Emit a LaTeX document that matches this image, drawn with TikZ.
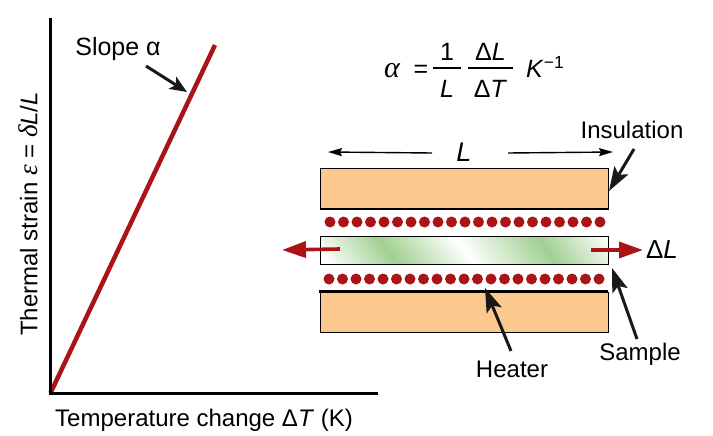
\documentclass[tikz,border=0pt]{standalone}
\usepackage{amsmath,amssymb}
\usepackage{fontspec}
\setmainfont{Liberation Sans}
\newfontfamily\serifgreek{Liberation Serif}
\usepackage{xcolor}
\usetikzlibrary{arrows.meta,positioning,calc}
\definecolor{slabred}{RGB}{170,20,22}
\definecolor{slaborange}{RGB}{251,201,142}
\definecolor{slabgreen}{RGB}{160,208,145}
\pgfdeclarehorizontalshading{samplegrain}{100bp}{color(0bp)=(white); color(30bp)=(white); color(39.5bp)=(slabgreen); color(50bp)=(white); color(61.3bp)=(slabgreen); color(71bp)=(white); color(100bp)=(white)}

\begin{document}
\begin{tikzpicture}[
  x=1pt, y=-1pt,
  font=\fontsize{24}{27}\selectfont,
  txt/.style={inner sep=0pt, align=center},
  term/.style={txt, anchor=base, font=\fontsize{25}{28}\selectfont},
  slab/.style={draw, line width=0.8pt, fill=slaborange},
  coil/.style={circle, fill=slabred, minimum size=11pt, inner sep=0pt},
  axis/.style={line width=3pt},
  pointer/.style={-{Stealth[length=24pt, width=16pt, inset=5pt]}, line width=3pt, black!90},
  span/.style={-{Stealth[length=14pt, width=8pt, inset=2pt]}, line width=1.4pt},
  stretch/.style={-{Stealth[length=24pt, width=16pt, inset=0pt]}, line width=3.6pt, slabred}]
  \useasboundingbox (0,0) rectangle (713,436);

  % graph
  \coordinate (origin) at (50.5,393);
  \coordinate (ytop) at (50.5,18);
  \coordinate (xend) at (378,393);
  \coordinate (linetop) at (215,45);
  \draw[slabred, line width=4.5pt] (origin) -- (linetop);
  \draw[axis] (ytop) -- (origin.center) -- (xend);
  \node[txt, font=\fontsize{25}{28}\selectfont] (slope) at (118,49) {Slope α};
  \coordinate (slopetail) at (146,66);
  \coordinate (slopetip) at (187,92);
  \draw[pointer, {-{Stealth[length=17pt, width=14pt, inset=4pt]}}] (slopetail) -- (slopetip);
  \node[txt, rotate=90] (ylabel) at (28,214) {Thermal strain {\serifgreek\itshape\fontsize{27}{27}\selectfont ε} = {\serifgreek\itshape\fontsize{27}{27}\selectfont δ}\textit{L}/\textit{L}};
  \node[txt] (xlabel) at (204,420) {Temperature change Δ\textit{T} (K)};

  % formula
  \node[term, font=\fontsize{30}{30}\selectfont\serifgreek\itshape] (alpha) at (392,78) {α};
  \node[term] (equals) at (421,78) {=};
  \node[term] (num1) at (447,61) {1};
  \node[term] (den1) at (447,98) {\textit{L}};
  \node[term] (num2) at (490.5,61) {Δ\textit{L}};
  \node[term] (den2) at (490.5,98) {Δ\textit{T}};
  \node[term, anchor=base west] (kelvin) at (526,78) {\textit{K}\textsuperscript{−1}};
  \coordinate (bar1l) at (433,68);
  \coordinate (bar1r) at (461,68);
  \coordinate (bar2l) at (468,68);
  \coordinate (bar2r) at (513,68);
  \draw[line width=1.5pt] (bar1l) -- (bar1r);
  \draw[line width=1.5pt] (bar2l) -- (bar2r);

  % insulation
  \node[slab, minimum width=288pt, minimum height=41pt, inner sep=0pt] (topslab) at (464,188.5) {};
  \node[slab, minimum width=288pt, minimum height=40pt, inner sep=0pt] (botslab) at (464,312) {};
  \draw[line width=2pt] (topslab.south west) -- (topslab.south east);
  \draw[line width=2.4pt] ($(botslab.north west)+(-1,0)$) -- (botslab.north east);

  % sample
  \begin{scope}
    \clip (320,236) rectangle (608,264);
    \shade[shading=samplegrain, transform canvas={rotate around={35:(464,250)}}] (314,130) rectangle (614,370);
  \end{scope}
  \node[draw, line width=0.8pt, minimum width=288pt, minimum height=28pt, inner sep=0pt] (sample) at (464,250) {};

  % heater
  \foreach \i in {0,...,20} {
    \node[coil] (up\i) at ({330+13.5*\i},222) {};
    \node[coil] (lo\i) at ({329+13.5*\i},279) {};
  }

  % length
  \node[txt, font=\fontsize{27}{30}\selectfont] (len) at (464,152) {\textit{L}};
  \coordinate (lenltail) at (432,153);
  \coordinate (lenltip) at (328,152);
  \coordinate (lenrtail) at (508,153);
  \coordinate (lenrtip) at (613,152);
  \draw[span] (lenltail) -- (lenltip);
  \draw[span] (lenrtail) -- (lenrtip);

  % labels
  \node[txt] (insul) at (632,130) {Insulation};
  \coordinate (insultail) at (634,149);
  \coordinate (insultip) at (609,191);
  \draw[pointer] (insultail) -- (insultip);
  \node[txt] (heater) at (512,369) {Heater};
  \coordinate (heatertail) at (511,351);
  \coordinate (heatertip) at (485,288);
  \draw[pointer] (heatertail) -- (heatertip);
  \node[txt] (samp) at (640,354) {Sample};
  \coordinate (samptail) at (637,339);
  \coordinate (samptip) at (612,268);
  \draw[pointer] (samptail) -- (samptip);

  % expansion
  \node[txt, font=\fontsize{26}{29}\selectfont] (dl) at (662,250) {Δ\textit{L}};
  \coordinate (grow1) at (340,249);
  \coordinate (grow2) at (282,250);
  \coordinate (grow3) at (591,250);
  \coordinate (grow4) at (643,250);
  \draw[stretch] (grow1) -- (grow2);
  \draw[stretch] (grow3) -- (grow4);
\end{tikzpicture}
\end{document}
